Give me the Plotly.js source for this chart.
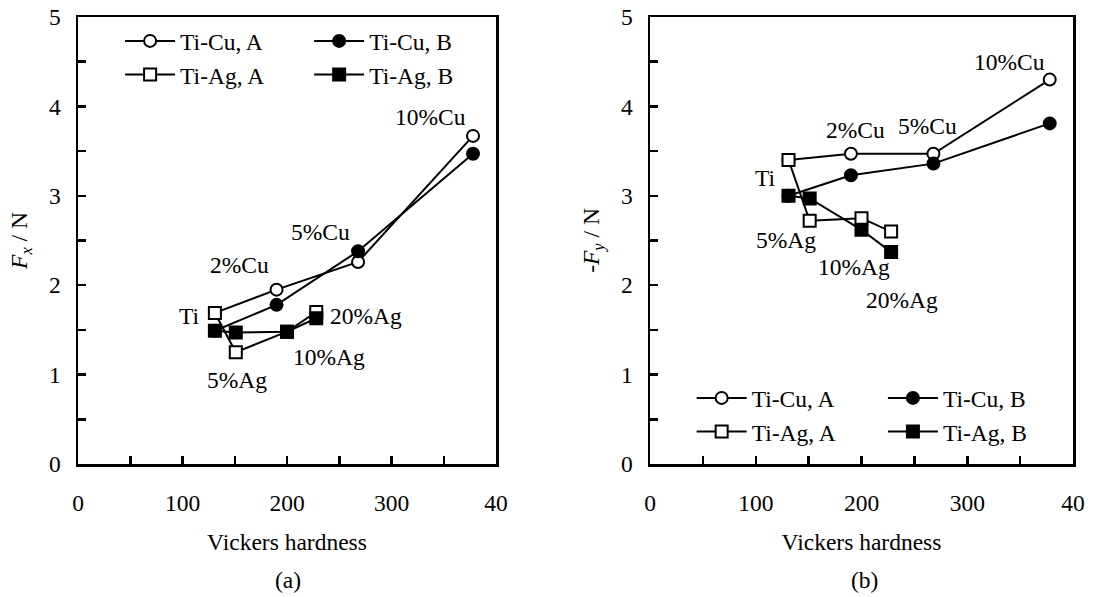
<!DOCTYPE html>
<html><head><meta charset="utf-8">
<script src="https://cdn.plot.ly/plotly-3.0.1.min.js"></script>
<style>html,body{margin:0;padding:0;background:#fff}#chart{width:1112px;height:597px}</style>
</head><body><div id="chart"></div>
<script>
// ---- data ----
const seriesNames = ['Ti-Cu, A', 'Ti-Cu, B', 'Ti-Ag, A', 'Ti-Ag, B'];
const hardnessCu = [131, 190, 268, 378];   // Ti, 2%Cu, 5%Cu, 10%Cu
const hardnessAg = [131, 151, 200, 228];   // Ti, 5%Ag, 10%Ag, 20%Ag
// (a) Fx / N
const fxCuA = [1.69, 1.95, 2.26, 3.67];
const fxCuB = [1.49, 1.78, 2.38, 3.47];
const fxAgA = [1.69, 1.25, 1.48, 1.70];
const fxAgB = [1.49, 1.47, 1.48, 1.63];
// (b) -Fy / N
const fyCuA = [3.40, 3.47, 3.47, 4.30];
const fyCuB = [3.00, 3.23, 3.36, 3.81];
const fyAgA = [3.40, 2.72, 2.75, 2.60];
const fyAgB = [3.00, 2.97, 2.62, 2.37];
// tick labels
const xTickVals = [0, 100, 200, 300, 400];
const xTickText = ['0', '100', '200', '300', '40'];
const yTickVals = [0, 1, 2, 3, 4, 5];
const yTickText = ['0', '1', '2', '3', '4', '5'];
// point labels
const labelsA = ['10%Cu', '5%Cu', '2%Cu', 'Ti', '20%Ag', '10%Ag', '5%Ag'];
const labelsB = ['10%Cu', '2%Cu', '5%Cu', 'Ti', '5%Ag', '10%Ag', '20%Ag'];

// ---- styling ----
const FONT = 'Liberation Serif';
const FS = 23.5;
const symbols = ['circle', 'circle', 'square', 'square'];
const filled = [false, true, false, true];
const fnt = () => ({family: FONT, size: FS, color: 'black'});

function trace(i, x, y, xa, ya, legend) {
  return {
    type: 'scatter', mode: 'lines+markers', name: seriesNames[i],
    x: x, y: y, xaxis: xa, yaxis: ya, legend: legend,
    line: {color: 'black', width: 2},
    marker: {symbol: symbols[i], size: 12, color: filled[i] ? 'black' : 'white',
             line: {color: 'black', width: 2}},
    cliponaxis: false
  };
}

const data = [
  trace(0, hardnessCu, fxCuA, 'x', 'y', 'legend'),
  trace(1, hardnessCu, fxCuB, 'x', 'y', 'legend2'),
  trace(2, hardnessAg, fxAgA, 'x', 'y', 'legend'),
  trace(3, hardnessAg, fxAgB, 'x', 'y', 'legend2'),
  trace(0, hardnessCu, fyCuA, 'x2', 'y2', 'legend3'),
  trace(1, hardnessCu, fyCuB, 'x2', 'y2', 'legend4'),
  trace(2, hardnessAg, fyAgA, 'x2', 'y2', 'legend3'),
  trace(3, hardnessAg, fyAgB, 'x2', 'y2', 'legend4')
];

function xAxis(domain) {
  return {
    domain: domain, range: [0, 400], showgrid: false, zeroline: false,
    showline: true, linecolor: 'black', linewidth: 2.5, mirror: true,
    ticks: 'inside', ticklen: 8, tickwidth: 2.5, tickcolor: 'black',
    tickmode: 'array', tickvals: xTickVals, ticktext: xTickText,
    minor: {dtick: 50, tick0: 0, ticks: 'inside', ticklen: 8, tickwidth: 2.5, tickcolor: 'black'},
    tickfont: fnt(), ticklabelstandoff: 16,
    title: {text: 'Vickers hardness', font: fnt(), standoff: 19}
  };
}
function yAxis(domain, anchor, title) {
  return {
    domain: domain, anchor: anchor, range: [0, 5], showgrid: false, zeroline: false,
    showline: true, linecolor: 'black', linewidth: 2.5, mirror: true,
    ticks: 'inside', ticklen: 8, tickwidth: 2.5, tickcolor: 'black',
    tickmode: 'array', tickvals: yTickVals, ticktext: yTickText,
    minor: {dtick: 0.5, tick0: 0, ticks: 'inside', ticklen: 8, tickwidth: 2.5, tickcolor: 'black'},
    tickfont: fnt(), ticklabelstandoff: 10,
    title: {text: title, font: fnt(), standoff: 15}
  };
}

function legendCfg(x, y) {
  return {x: x, y: y, xanchor: 'left', yanchor: 'top', bgcolor: 'rgba(0,0,0,0)',
          borderwidth: 0, font: fnt(), itemwidth: 50, tracegroupgap: 0, orientation: 'v'};
}

const posA = [[337, 3.88], [231.6, 2.6], [155, 2.23], [107, 1.65], [275.6, 1.66], [240, 1.2], [152, 0.94]];
const posB = [[339.6, 4.5], [194, 3.74], [262, 3.78], [108.8, 3.2], [128.7, 2.51], [193, 2.2], [238.4, 1.83]];
const annotations = [];
labelsA.forEach((t, i) => annotations.push({text: t, x: posA[i][0], y: posA[i][1], xref: 'x', yref: 'y',
  showarrow: false, xanchor: 'center', yanchor: 'middle', font: fnt()}));
labelsB.forEach((t, i) => annotations.push({text: t, x: posB[i][0], y: posB[i][1], xref: 'x2', yref: 'y2',
  showarrow: false, xanchor: 'center', yanchor: 'middle', font: fnt()}));
annotations.push({text: '(a)', x: 0.259, y: 0.0285, xref: 'paper', yref: 'paper', showarrow: false,
  xanchor: 'center', yanchor: 'middle', font: fnt()});
annotations.push({text: '(b)', x: 0.777, y: 0.0285, xref: 'paper', yref: 'paper', showarrow: false,
  xanchor: 'center', yanchor: 'middle', font: fnt()});

const layout = {
  width: 1112, height: 597,
  margin: {l: 0, r: 0, t: 0, b: 0},
  paper_bgcolor: 'white', plot_bgcolor: 'white',
  font: fnt(),
  xaxis: xAxis([78 / 1112, 496 / 1112]),
  yaxis: yAxis([133 / 597, 580 / 597], 'x', '<i>F<sub>x</sub></i> / N'),
  xaxis2: Object.assign(xAxis([650 / 1112, 1073 / 1112]), {anchor: 'y2'}),
  yaxis2: yAxis([133 / 597, 580 / 597], 'x2', '-<i>F<sub>y</sub></i> / N'),
  legend: legendCfg(0.108, 0.968),
  legend2: legendCfg(0.278, 0.968),
  legend3: legendCfg(0.622, 0.37),
  legend4: legendCfg(0.794, 0.37),
  annotations: annotations,
  showlegend: true
};

Plotly.newPlot('chart', data, layout, {displayModeBar: false, staticPlot: true});
</script>
</body></html>
